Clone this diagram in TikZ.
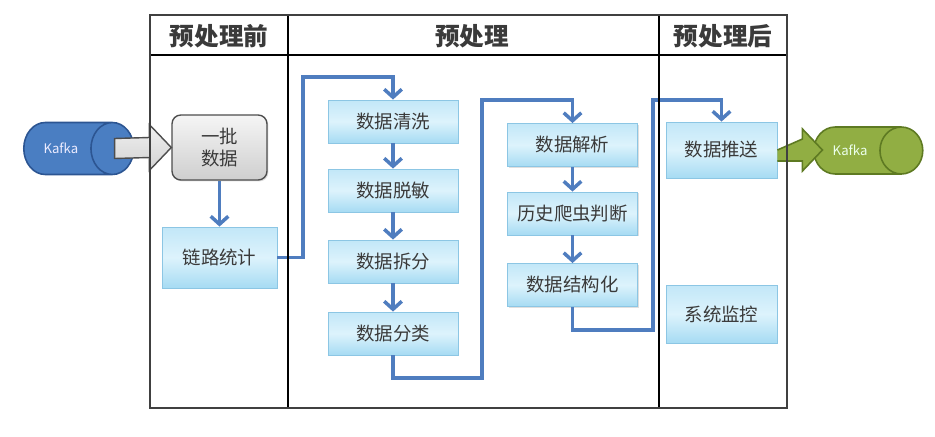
\documentclass[tikz,border=0pt]{standalone}
\usepackage{fontspec}
\setmainfont{Noto Sans CJK SC}
\usepackage{tikz}
\usetikzlibrary{arrows.meta,calc,shapes.geometric,shadows}
\definecolor{ink}{HTML}{3A3A3A}
\definecolor{frame}{HTML}{404040}
\definecolor{flow}{HTML}{4F7DBF}
\definecolor{boxline}{HTML}{8CC6E4}
\definecolor{boxtop}{HTML}{C2E7F8}
\definecolor{boxmid}{HTML}{DDF3FC}
\definecolor{boxbot}{HTML}{A6DBF3}
\definecolor{kblue}{HTML}{4A7EC2}
\definecolor{kblueline}{HTML}{2C5592}
\definecolor{kgreen}{HTML}{91AE43}
\definecolor{kgreenline}{HTML}{5E7A22}
\definecolor{grayline}{HTML}{4D4D4D}

\begin{document}
\begin{tikzpicture}[
  x=0.02cm, y=-0.02cm,
  every node/.style={font=\fontsize{10.5}{12}\selectfont, text=ink},
  proc/.style={rectangle, draw=boxline, line width=0.5pt,
    top color=boxtop, bottom color=boxbot, middle color=boxmid,
    drop shadow={shadow xshift=0.8pt, shadow yshift=-0.8pt, opacity=0.25},
    minimum width=2.6cm, minimum height=0.86cm, inner sep=0pt},
  batchbox/.style={rectangle, rounded corners=5pt, draw=grayline, line width=0.8pt,
    top color=gray!8, bottom color=gray!38, align=center,
    drop shadow={shadow xshift=0.8pt, shadow yshift=-0.8pt, opacity=0.25},
    minimum width=1.9cm, minimum height=1.3cm, inner sep=0pt},
  kafka/.style={cylinder, shape border rotate=0, aspect=1.9, line width=0.9pt,
    anchor=west, cylinder uses custom fill, font=\fontsize{7.5}{9}\selectfont},
  arrow/.style={-{Straight Barb[length=4.5pt,width=10pt]}, line width=2pt, color=flow},
  head/.style={font=\fontsize{14}{16}\selectfont\bfseries},
  lane/.style={line width=0.8pt, color=black}
]
\useasboundingbox (0,0) rectangle (935,436);

% --- sources and sinks
\node[kafka, draw=kblueline, cylinder body fill=kblue, cylinder end fill=kblue,
  minimum width=1.04cm, minimum height=2.2cm, text=blue!8] (kin) at (23,148.5) {Kafka};
\node[kafka, draw=kgreenline, cylinder body fill=kgreen, cylinder end fill=kgreen,
  minimum width=0.94cm, minimum height=2.18cm, text=green!8!white] (kout) at (813,150.5) {Kafka};

% --- lane 1: before
\node[batchbox] (batch) at (219.5,147.5) {一批\\数据};
\node[proc, minimum width=2.3cm, minimum height=1.22cm] (link) at (219.5,257.5) {链路统计};

% --- lane 2: processing
\node[proc] (clean)    at (393,121.5) {数据清洗};
\node[proc] (mask)     at (393,190.5) {数据脱敏};
\node[proc] (split)    at (393,261.5) {数据拆分};
\node[proc] (classify) at (393,333.5) {数据分类};

\node[proc] (parse)  at (572.5,145) {数据解析};
\node[proc] (hist)   at (572.5,213.5) {历史爬虫判断};
\node[proc] (struct) at (572.5,285) {数据结构化};

% --- lane 3: after
\node[proc, minimum width=2.22cm, minimum height=1.12cm] (push)    at (721.5,150) {数据推送};
\node[proc, minimum width=2.22cm, minimum height=1.16cm] (monitor) at (721.5,314) {系统监控};

% bend points of the long routes
\coordinate (t1) at (303,77);
\coordinate (b2) at (482,378);
\coordinate (t2) at (482,100);
\coordinate (b3) at (653,330);
\coordinate (t3) at (653,100);

% --- block arrows in and out
\draw[draw=grayline, line width=0.8pt, top color=gray!12, bottom color=gray!35]
  ($(kin.east)+(-20,-10)$) -- ($(batch.west)+(-22,-10)$) -- ($(batch.west)+(-22,-23)$)
  -- (batch.west) -- ($(batch.west)+(-22,23)$) -- ($(batch.west)+(-22,10)$)
  -- ($(kin.east)+(-20,10)$) -- cycle;
\draw[draw=kgreenline, line width=0.9pt, fill=kgreen]
  (push.east) -- ++(25,-11) -- ++(0,-10) -- ($(push.east)+(45,0)$)
  -- ($(push.east)+(25,21)$) -- ++(0,-10) -- ($(push.east)+(0,11)$);

% --- flow
\draw[arrow] (batch) -- (link);
\draw[arrow] (link.east) -| (t1) -| (clean.north);
\draw[arrow] (clean) -- (mask);
\draw[arrow] (mask) -- (split);
\draw[arrow] (split) -- (classify);
\draw[arrow] (classify.south) |- (b2) -- (t2) -| (parse.north);
\draw[arrow] (parse) -- (hist);
\draw[arrow] (hist) -- (struct);
\draw[arrow] (struct.south) |- (b3) -- (t3) -| (push.north);

% --- swimlane frame
\draw[lane] (288,15) -- (288,408);
\draw[lane] (659,15) -- (659,408);
\draw[lane] (150,55) -- (787,55);
\draw[line width=1.3pt, color=frame] (150,15) rectangle (787,408);
\node[head] (h1) at (219,36) {预处理前};
\node[head] (h2) at (472,36) {预处理};
\node[head] (h3) at (723,36) {预处理后};
\end{tikzpicture}
\end{document}
